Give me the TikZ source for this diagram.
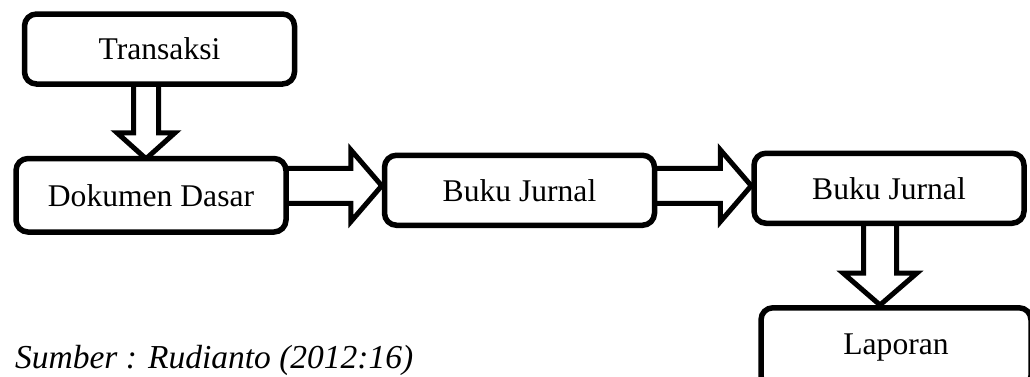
\documentclass[tikz,border=0pt]{standalone}
\usepackage{fontspec}
\setmainfont{Liberation Serif}
\usetikzlibrary{calc, positioning, backgrounds}

\begin{document}
\begin{tikzpicture}[x=0.5pt, y=-0.5pt,
        box/.style={rectangle, rounded corners=6pt, draw, fill=white, line width=2.75pt,
            minimum width=135pt, minimum height=35pt, font=\fontsize{15.8}{18}\selectfont},
        blk/.style={draw, fill=white, line width=2.5pt, line join=miter}
        ]
        \useasboundingbox (0,0) rectangle (1030,376);
        \clip (0,0) rectangle (1030,376);
        \node[box] (trans) at (159.5,49) {Transaksi};
        \node[box, minimum height=36.75pt, below=34.5pt of trans, xshift=-4.25pt] (dok) {Dokumen Dasar\hspace{7pt}};
        \node[box, right=46.5pt of dok, yshift=2.5pt] (bj1) {Buku Jurnal};
        \node[box, right=47pt of bj1, yshift=1pt] (bj2) {Buku Jurnal};
        \node[box, minimum height=40pt, below=39.5pt of bj2, xshift=3.5pt] (lap) {Laporan};
        \node[anchor=base west, font=\fontsize{16.75}{20}\selectfont\itshape] (src) at (8,368) {Sumber : Rudianto (2012:16)};

        % fat arrows behind the boxes
        \begin{scope}[on background layer]
        \draw[blk] ($(dok.north)+(-5,3)$) -- ++(-29,-26) -- ++(16.5,0) -- ++(0,-50)
            -- ++(25,0) -- ++(0,50) -- ++(16.5,0) -- cycle;
        \draw[blk] ($(bj1.west)+(0,-4.5)$) -- ++(-31,-36) -- ++(0,18.5) -- ++(-66,0)
            -- ++(0,35) -- ++(66,0) -- ++(0,18.5) -- cycle;
        \draw[blk] ($(bj2.west)+(0,-2.5)$) -- ++(-31,-36) -- ++(0,18.5) -- ++(-67,0)
            -- ++(0,35) -- ++(67,0) -- ++(0,18.5) -- cycle;
        \draw[blk] ($(lap.north)+(-16,0)$) -- ++(-37,-32) -- ++(20.5,0) -- ++(0,-50)
            -- ++(33,0) -- ++(0,50) -- ++(20.5,0) -- cycle;
        \end{scope}
\end{tikzpicture}
\end{document}
